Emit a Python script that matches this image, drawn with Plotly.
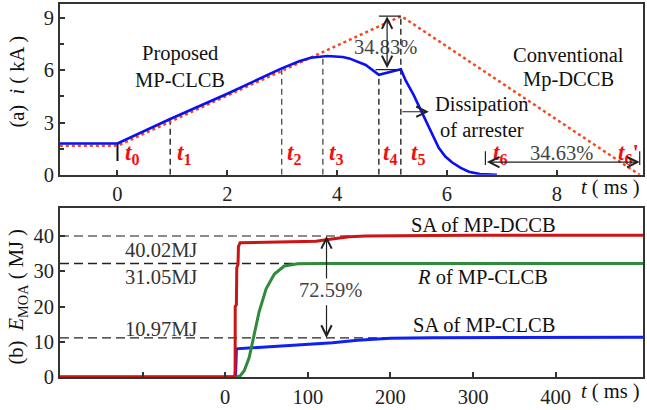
import numpy as np
import plotly.graph_objects as go

# ---------------- Panel (a): breaker current ----------------
t_clcb = [-1.05, 0.0, 0.96, 2.0, 2.99, 3.31, 3.52, 3.82, 4.1, 4.22, 4.52, 4.76,
          5.16, 5.25, 5.39, 5.5, 5.61, 5.73, 5.85, 5.97, 6.09, 6.25, 6.4, 6.6, 6.75, 6.91]
i_clcb = [1.8, 1.8, 3.2, 4.65, 6.11, 6.52, 6.72, 6.82, 6.76, 6.68, 6.3, 5.74,
          6.06, 5.4, 4.6, 3.85, 3.1, 2.3, 1.55, 1.05, 0.72, 0.4, 0.18, 0.04, 0.0, 0.0]
t_dccb = [-1.05, 0.0, 5.17, 9.51]
i_dccb = [1.67, 1.67, 9.1, 0.0]

t_marks = [0.0, 0.96, 2.99, 3.74, 4.76, 5.16, 6.70, 9.51]
t_mark_names = ["0", "1", "2", "3", "4", "5", "6", "6'"]
x_ticks_a = [0, 2, 4, 6, 8]
y_ticks_a = [0, 3, 6, 9]

# ---------------- Panel (b): arrester energy ----------------
tb_sa_dccb = [-200, 11.5, 12.0, 12.1, 13.5, 14.0, 15.5, 16.0, 18.0, 40, 80, 110,
              120, 135, 150, 170, 200, 250, 300, 400, 506]
e_sa_dccb = [0.0, 0.0, 2.0, 20.0, 20.5, 31.0, 32.0, 37.0, 38.1, 38.2, 38.3, 38.5,
             38.9, 39.4, 39.8, 40.0, 40.1, 40.15, 40.2, 40.2, 40.2]
tb_r_clcb = [0, 13, 18, 23, 29, 35, 41, 49.5, 59.5, 71.5, 87.6, 120, 506]
e_r_clcb = [0.0, 0.0, 0.3, 1.8, 5.5, 12.0, 18.5, 25.0, 29.2, 31.5, 32.1, 32.2, 32.2]
tb_sa_clcb = [-200, 12.5, 13.5, 50, 100, 130, 160, 200, 250, 300, 506]
e_sa_clcb = [0.0, 0.0, 8.0, 8.5, 9.2, 9.7, 10.4, 11.0, 11.15, 11.2, 11.25]

e_levels = [40.0, 32.2, 11.1]
e_level_text = ["40.02MJ", "31.05MJ", "10.97MJ"]
x_ticks_b = [-100, 0, 100, 200, 300, 400]
x_ticktext_b = ["", "0", "100", "200", "300", "400"]
y_ticks_b = [0, 10, 20, 30, 40]

FONT = "Liberation Serif, Times New Roman, serif"
FS = 20.5
AX = "#333333"

fig = go.Figure()
fig.add_trace(go.Scatter(x=t_dccb, y=i_dccb, mode="lines", xaxis="x", yaxis="y",
                         line=dict(color="#f04a1e", width=2.5, dash="3px,3px")))
fig.add_trace(go.Scatter(x=t_clcb, y=i_clcb, mode="lines", xaxis="x", yaxis="y",
                         line=dict(color="#0a10f5", width=2.6)))

fig.add_trace(go.Scatter(x=tb_sa_clcb, y=e_sa_clcb, mode="lines", xaxis="x2", yaxis="y2",
                         line=dict(color="#1020f0", width=3)))
fig.add_trace(go.Scatter(x=tb_r_clcb, y=e_r_clcb, mode="lines", xaxis="x2", yaxis="y2",
                         line=dict(color="#2f8a3c", width=3)))
fig.add_trace(go.Scatter(x=tb_sa_dccb, y=e_sa_dccb, mode="lines", xaxis="x2", yaxis="y2",
                         line=dict(color="#cc1414", width=3)))

shapes = []
# t-mark dashed lines (panel a)
tops = list(np.interp(t_marks, t_clcb, i_clcb))
for k, (tm, top) in enumerate(zip(t_marks, tops)):
    if k == 0:
        shapes.append(dict(type="line", xref="x", yref="y", x0=tm, x1=tm, y0=0.8, y1=1.8,
                           line=dict(color="#111", width=2), layer="below"))
        continue
    if k >= 6:
        continue
    if k == 5:
        top = max(i_dccb)
    col = "#555555" if k in (2, 3) else "#222222"
    shapes.append(dict(type="line", xref="x", yref="y", x0=tm, x1=tm, y0=0, y1=top,
                       line=dict(color=col, width=1.4, dash="6px,4px"), layer="below"))
# bars of the 34.83% arrow
shapes.append(dict(type="line", xref="x", yref="y", x0=t_marks[4], x1=t_marks[5],
                   y0=max(i_dccb), y1=max(i_dccb), line=dict(color="#222", width=1.2)))
shapes.append(dict(type="line", xref="x", yref="y", x0=4.70, x1=t_marks[5],
                   y0=6.03, y1=6.03, line=dict(color="#222", width=1.2)))
# bars of the 34.63% arrow
for tm in t_marks[6:]:
    shapes.append(dict(type="line", xref="x", yref="y", x0=tm, x1=tm, y0=0.56, y1=1.35,
                       line=dict(color="#222", width=1.2)))
# energy level dashed lines (panel b)
level_ends = [195, 120, 295]
level_cols = ["#666666", "#222222", "#222222"]
for lv, xe, c in zip(e_levels, level_ends, level_cols):
    shapes.append(dict(type="line", xref="x2", yref="y2", x0=-200, x1=xe, y0=lv, y1=lv,
                       line=dict(color=c, width=1.4, dash="9px,5px"), layer="below"))

ann = []
def txt(x, y, s, xref="x", yref="y", color="#111111", size=FS, **kw):
    ann.append(dict(x=x, y=y, xref=xref, yref=yref, text=s, showarrow=False,
                    xanchor="center", yanchor="middle",
                    font=dict(family=FONT, size=size, color=color), **kw))

def arrow(x, y, ax, ay, xref="x", yref="y", both=False):
    d = dict(x=x, y=y, ax=ax, ay=ay, xref=xref, yref=yref, axref=xref, ayref=yref,
             text="", showarrow=True, arrowhead=5, arrowsize=1.7, arrowwidth=1.2,
             arrowcolor="#222222", standoff=0, startstandoff=0)
    if both:
        d.update(arrowside="end+start", startarrowhead=5, startarrowsize=1.7)
    ann.append(d)

# panel (a) texts
txt(1.13, 6.97, "Proposed")
txt(1.13, 5.46, "MP-CLCB")
txt(8.21, 6.87, "Conventional")
txt(8.21, 5.46, "Mp-DCCB")
txt(6.63, 4.05, "Dissipation")
txt(6.63, 2.55, "of arrester")
txt(4.88, 7.34, "34.83%", color="#444444")
txt(8.08, 1.24, "34.63%", color="#444444")
label_x = [0.27, 1.22, 3.22, 3.98, 4.96, 5.48, 6.96, 9.31]
for lx, nm in zip(label_x, t_mark_names):
    sub = nm.rstrip("'")
    prime = "<b>'</b>" if nm.endswith("'") else ""
    txt(lx, 1.2, "<b><i>t</i></b><sub><b>%s</b></sub>%s" % (sub, prime), color="#ee1111",
        size=23)
arrow(4.91, 9.1, 4.91, 6.03, both=True)
arrow(5.67, 3.62, t_marks[5], 3.62)
arrow(t_marks[7], 0.73, t_marks[6], 0.73, both=True)

# panel (b) texts
for lv_txt, yy in zip(e_level_text, [35.9, 28.3, 13.65]):
    txt(-78, yy, lv_txt, xref="x2", yref="y2", color="#333333")
txt(128, 24.6, "72.59%", xref="x2", yref="y2", color="#444444")
txt(313, 43.2, "SA of MP-DCCB", xref="x2", yref="y2")
txt(311, 28.5, "<i>R</i> of MP-CLCB", xref="x2", yref="y2")
txt(313, 14.85, "SA of MP-CLCB", xref="x2", yref="y2")
arrow(122.6, 40.0, 122.6, 27.5, xref="x2", yref="y2")
arrow(122.6, 11.1, 122.6, 20.8, xref="x2", yref="y2")

# axis titles
txt(-0.072, 0.792, "(a)  <i>i</i> ( kA )", xref="paper", yref="paper", textangle=-90)
txt(-0.072, 0.213, "(b)  <i>E</i><sub>MOA</sub> ( MJ )", xref="paper", yref="paper", textangle=-90)
txt(0.945, 0.508, "<i>t</i> ( ms )", xref="paper", yref="paper")
txt(0.945, -0.040, "<i>t</i> ( ms )", xref="paper", yref="paper")

axis_common = dict(showline=True, linecolor=AX, linewidth=2, mirror=True, ticks="inside",
                   ticklen=5, tickwidth=1.5, tickcolor=AX, showgrid=False, zeroline=False,
                   tickfont=dict(family=FONT, size=FS, color="#222222"))

fig.update_layout(
    width=647, height=410, margin=dict(l=60, r=2, t=3, b=27),
    paper_bgcolor="white", plot_bgcolor="white", showlegend=False,
    font=dict(family=FONT, size=FS, color="#222222"),
    shapes=shapes, annotations=ann,
    xaxis=dict(domain=[0, 1], anchor="y", range=[-1.047, 9.57], tickvals=x_ticks_a, **axis_common),
    yaxis=dict(domain=[0.542, 1], anchor="x", range=[0, 9.8], tickvals=y_ticks_a,
               minor=dict(dtick=1.5, tick0=0, ticks="inside", ticklen=4, tickcolor=AX),
               **axis_common),
    xaxis2=dict(domain=[0, 1], anchor="y2", range=[-200, 505.7], tickvals=x_ticks_b,
                ticktext=x_ticktext_b, **axis_common),
    yaxis2=dict(domain=[0, 0.4526], anchor="x2", range=[0, 47.9], tickvals=y_ticks_b, **axis_common),
)

fig.write_html("out.html", config={"displayModeBar": False},
               post_script="document.body.style.margin='0px';document.body.style.overflow='hidden';")
